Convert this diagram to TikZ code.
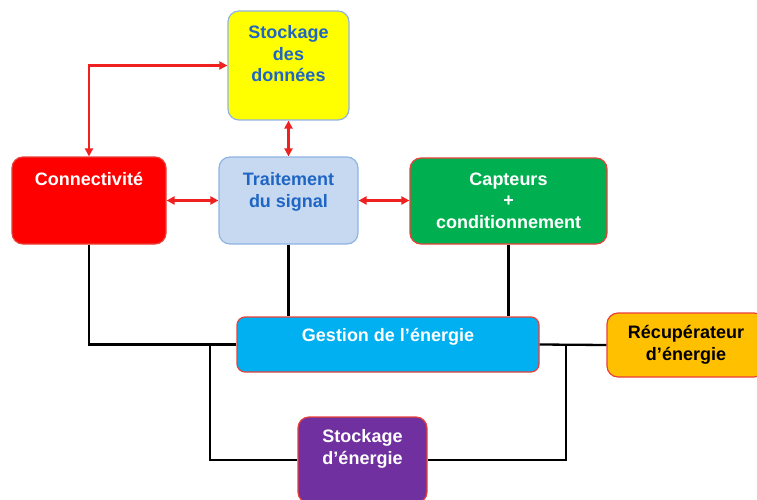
\documentclass[tikz,border=0pt]{standalone}
\usepackage{fontspec}
\setmainfont{Liberation Sans}
\usetikzlibrary{arrows.meta}
\definecolor{yel}{HTML}{FFFF00}
\definecolor{lbord}{HTML}{8FB4E3}
\definecolor{txtblue}{HTML}{1F66C4}
\definecolor{tsfill}{HTML}{C6D9F1}
\definecolor{confill}{HTML}{FF0000}
\definecolor{capfill}{HTML}{00B050}
\definecolor{gefill}{HTML}{00B0F0}
\definecolor{recfill}{HTML}{FFC000}
\definecolor{sefill}{HTML}{7030A0}
\definecolor{rbord}{HTML}{E8403A}
\definecolor{arrowred}{HTML}{EE2020}
\begin{document}
\begin{tikzpicture}[x=1pt,y=-1pt,
  box/.style={draw=rbord, line width=1.2pt, rounded corners=11pt, inner sep=0pt},
  txt/.style={font=\bfseries\fontsize{18}{21.7}\selectfont, align=center, anchor=base, inner sep=0pt},
  redarr/.style={draw=arrowred, line width=2.3pt, {Triangle[length=8pt,width=8pt]}-{Triangle[length=8pt,width=8pt]}},
  blk/.style={draw=black, line width=2.3pt}]
\useasboundingbox (0,0) rectangle (757,500);
% boxes
\node[box, fill=yel, draw=lbord, minimum width=121pt, minimum height=109pt] (sd) at (288.5,65.5) {};
\node[box, fill=confill, minimum width=154pt, minimum height=87pt] (con) at (89,200.5) {};
\node[box, fill=tsfill, draw=lbord, minimum width=139pt, minimum height=87pt] (ts) at (288.5,200.5) {};
\node[box, fill=capfill, minimum width=197pt, minimum height=86pt] (cap) at (508.5,201) {};
\node[box, fill=gefill, rounded corners=8pt, minimum width=302pt, minimum height=55pt] (ge) at (388,344.5) {};
\node[box, fill=recfill, minimum width=158pt, minimum height=64pt] (rec) at (686,345) {};
\node[box, fill=sefill, minimum width=129pt, minimum height=86pt] (se) at (362.5,460) {};
% texts (base = last line baseline)
\node[txt, text=txtblue] (sdt) at (288.5,82) {Stockage\\des\\données};
\node[txt, text=white] (cont) at (89,185) {Connectivité};
\node[txt, text=txtblue] (tst) at (288.5,207) {Traitement\\du signal};
\node[txt, text=white] (capt) at (508.5,228.5) {Capteurs\\+\\conditionnement};
\node[txt, text=white] (get) at (388,341) {Gestion de l’énergie};
\node[txt, text=black] (rect) at (686,360) {Récupérateur\\d’énergie};
\node[txt, text=white] (set) at (362.5,464.5) {Stockage\\d’énergie};
% red arrows
\draw[redarr] (con.north) |- (sd.west);
\draw[redarr] (sd.south) -- (ts.north);
\draw[redarr] (con.east) -- (ts.west);
\draw[redarr] (ts.east) -- (ts.east -| cap.west);
% black lines
\coordinate (jl) at (210,344.5);
\coordinate (jr) at (566,344.5);
\draw[blk] (con.south) |- (ge.west);
\draw[blk] (ts.south) -- (ts.south |- ge.north);
\draw[blk] (cap.south) -- (cap.south |- ge.north);
\draw[blk] (ge.east) -- (rec.west);
\draw[blk] (jl) |- (se.west);
\draw[blk] (jr) |- (se.east);
\end{tikzpicture}
\end{document}
